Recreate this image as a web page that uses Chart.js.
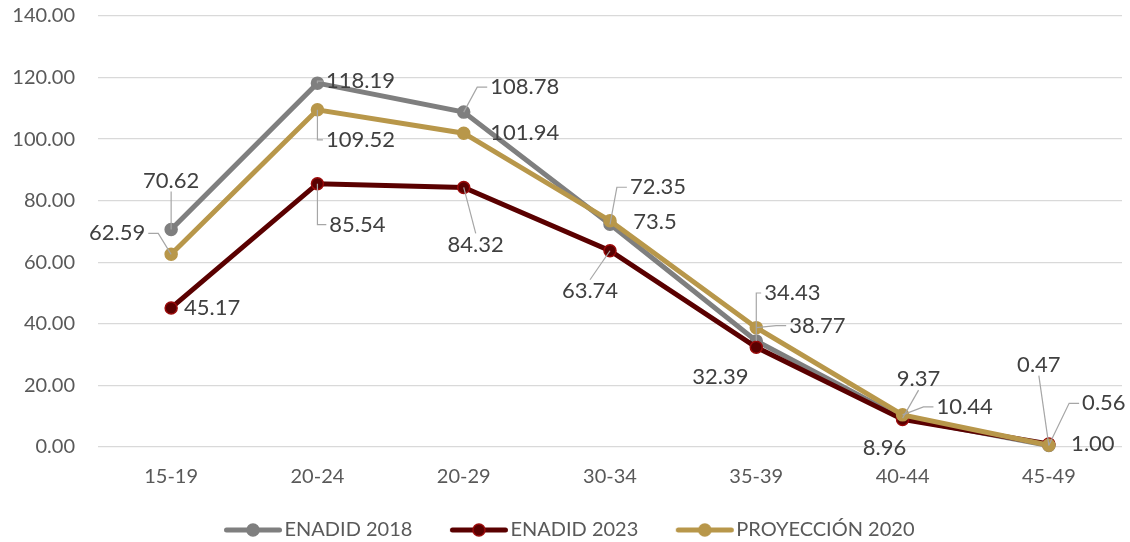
<!DOCTYPE html>
<html><head><meta charset="utf-8">
<script src="https://cdn.jsdelivr.net/npm/chart.js@4.4.0/dist/chart.umd.min.js"></script>
<style>html,body{margin:0;padding:0;background:#fff;} canvas{display:block;}</style>
</head><body>
<canvas id="c" width="1130" height="542"></canvas>
<script>
const categories = ['15-19','20-24','20-29','30-34','35-39','40-44','45-49'];
const enadid2018 = [70.62,118.19,108.78,72.35,34.43,9.37,0.47];
const enadid2023 = [45.17,85.54,84.32,63.74,32.39,8.96,1.00];
const proyeccion2020 = [62.59,109.52,101.94,73.5,38.77,10.44,0.56];
const yMin = 0, yMax = 140, yStep = 20;

// label placement (style): [dx, dy, leader]
const offs2018 = [[0,-49,1],[43,-2,1],[61,-25,1],[48,-37,1],[36,-48,1],[16,-39,1],[-10,-81,1]];
const offs2023 = [[41,0,0],[40,41,1],[12,57,1],[-20,40,1],[-36,30,0],[-18,28,0],[44,0,0]];
const offs2020 = [[-54,-21,1],[43,30,1],[61,0,0],[45,1,0],[61,-2,1],[62,-8,1],[55,-42,1]];

const FONT = 'Lato, "Open Sans", sans-serif';

function legendIcon(color, fill, border){
  const c = document.createElement('canvas');
  c.width = 100; c.height = 16;
  const x = c.getContext('2d');
  const a = 33.5;
  x.strokeStyle = color; x.lineWidth = 5; x.lineCap = 'round';
  x.beginPath(); x.moveTo(a+2,8); x.lineTo(a+55,8); x.stroke();
  x.beginPath(); x.arc(a+28.5,8,6,0,Math.PI*2); x.fillStyle = fill; x.fill();
  x.lineWidth = 1.5; x.strokeStyle = border; x.stroke();
  return c;
}

const seriesDefs = [
  {label:'ENADID 2018', data:enadid2018, color:'#7f7f7f', fill:'#7f7f7f', border:'#7f7f7f', offs:offs2018, fmt:v=>v.toFixed(2), order:2},
  {label:'ENADID 2023', data:enadid2023, color:'#5a0000', fill:'#5a0000', border:'#9a0a0a', offs:offs2023, fmt:v=>v.toFixed(2), order:1},
  {label:'PROYECCIÓN 2020', data:proyeccion2020, color:'#b8974a', fill:'#b8974a', border:'#b8974a', offs:offs2020, fmt:v=>String(v), order:0}
];

const labelPlugin = {
  id:'dataLabels',
  afterDatasetsDraw(chart){
    const ctx = chart.ctx;
    ctx.save();
    ctx.font = '22px ' + FONT;
    ctx.textAlign = 'center';
    ctx.textBaseline = 'middle';
    seriesDefs.forEach((s, i) => {
      const meta = chart.getDatasetMeta(i);
      meta.data.forEach((pt, j) => {
        const [dx, dy, leader] = s.offs[j];
        const text = s.fmt(s.data[j]);
        const cx = pt.x + dx, cy = pt.y + dy;
        const w = ctx.measureText(text).width, h = 16;
        if (leader) {
          ctx.strokeStyle = '#a6a6a6'; ctx.lineWidth = 1.2;
          ctx.beginPath();
          const left = cx - w/2, right = cx + w/2;
          if (pt.x < left - 1) {
            const ax = left - 3;
            const sx = Math.max(pt.x, ax - 10);
            ctx.moveTo(ax, cy); ctx.lineTo(sx, cy); ctx.lineTo(pt.x, pt.y);
          } else if (pt.x > right + 1) {
            const ax = right + 3;
            const sx = Math.min(pt.x, ax + 10);
            ctx.moveTo(ax, cy); ctx.lineTo(sx, cy); ctx.lineTo(pt.x, pt.y);
          } else {
            const ay = pt.y > cy ? cy + h/2 + 3 : cy - h/2 - 3;
            ctx.moveTo(cx, ay); ctx.lineTo(pt.x, pt.y);
          }
          ctx.stroke();
        }
        ctx.fillStyle = '#404040';
        ctx.fillText(text, cx, cy);
      });
    });
    ctx.restore();
  }
};

const yTickValues = [];
for (let v = yMin; v <= yMax; v += yStep) yTickValues.push(v);

new Chart(document.getElementById('c'), {
  type:'line',
  data:{
    labels: categories,
    datasets: seriesDefs.map(s => ({
      label:s.label, data:s.data, borderColor:s.color, backgroundColor:s.fill,
      pointBackgroundColor:s.fill, pointBorderColor:s.border, pointBorderWidth:1.5,
      pointRadius:6, borderWidth:5, tension:0, order:s.order, fill:false, clip:false
    }))
  },
  options:{
    responsive:false, animation:false,
    layout:{padding:{top:16, right:8, left:0, bottom:-8}},
    plugins:{
      tooltip:{enabled:false},
      legend:{
        position:'bottom',
        labels:{
          usePointStyle:true, pointStyleWidth:67, boxHeight:16,
          color:'#595959', font:{family:FONT, size:20}, padding:21,
          generateLabels(chart){
            return seriesDefs.map((s,i) => ({
              text:s.label, datasetIndex:i, fillStyle:s.fill, strokeStyle:s.color,
              pointStyle:legendIcon(s.color, s.fill, s.border), lineWidth:0, hidden:false,
              fontColor:'#595959'
            }));
          }
        }
      }
    },
    scales:{
      x:{
        offset:true,
        grid:{display:false},
        border:{display:false},
        ticks:{color:'#595959', font:{family:FONT, size:20}, padding:10}
      },
      y:{
        min:yMin, max:yMax,
        afterFit(scale){ scale.width = 98; scale.paddingTop = 0; scale.paddingBottom = 0; },
        afterBuildTicks(scale){ scale.ticks = yTickValues.map(v => ({value:v})); },
        grid:{color:'#d9d9d9', lineWidth:1.3, drawTicks:false},
        border:{display:false},
        ticks:{color:'#595959', font:{family:FONT, size:20}, padding:23, callback:v => v.toFixed(2)}
      }
    }
  },
  plugins:[labelPlugin]
});
</script>
</body></html>
